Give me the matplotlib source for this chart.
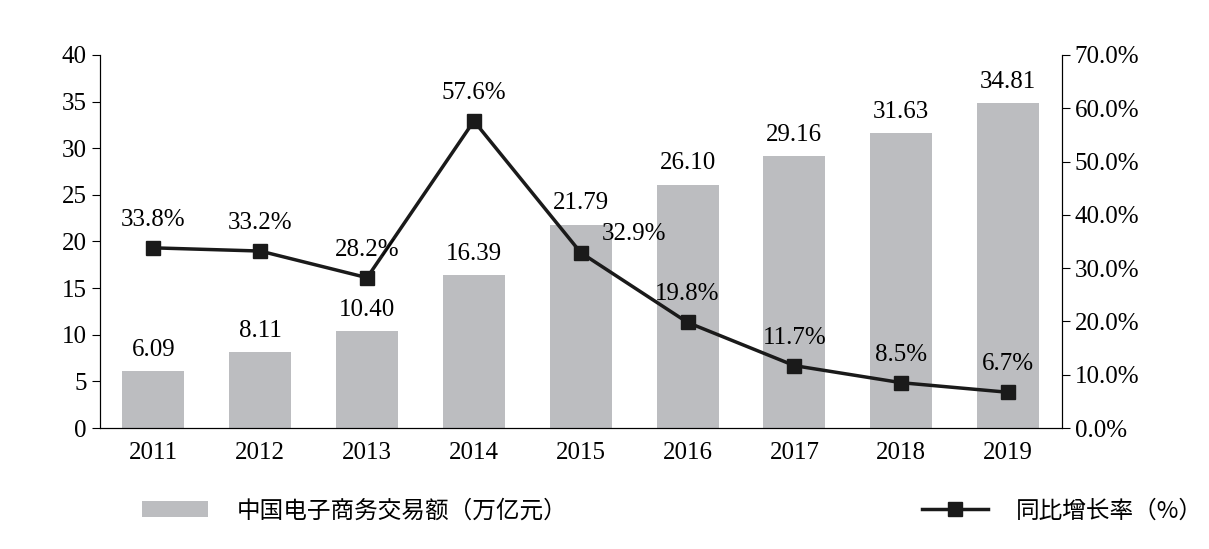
import matplotlib.pyplot as plt
from matplotlib.ticker import FuncFormatter
from matplotlib.font_manager import FontProperties

years = ['2011', '2012', '2013', '2014', '2015', '2016', '2017', '2018', '2019']
volume = [6.09, 8.11, 10.40, 16.39, 21.79, 26.10, 29.16, 31.63, 34.81]
growth = [33.8, 33.2, 28.2, 57.6, 32.9, 19.8, 11.7, 8.5, 6.7]

plt.rcParams['font.family'] = ['Liberation Serif', 'Noto Sans CJK SC']
plt.rcParams['font.size'] = 18

fig = plt.figure(figsize=(12.09, 5.49), dpi=100)
ax = fig.add_axes([0.0827, 0.2204, 0.7953, 0.6796])
x = range(len(years))
bars = ax.bar(x, volume, width=0.58, color='#bcbdc0', label='中国电子商务交易额（万亿元）')
for i, v in enumerate(volume):
    ax.text(i, v + 1.1, f'{v:.2f}', ha='center', va='bottom')
ax.set_xlim(-0.5, len(years) - 0.5)
ax.set_ylim(0, 40)
ax.set_yticks(range(0, 41, 5))
ax.set_xticks(list(x))
ax.set_xticklabels(years)
ax.spines['top'].set_visible(False)
ax.tick_params(axis='x', length=0, pad=10)
ax.tick_params(axis='y', direction='out', length=6)

ax2 = ax.twinx()
line, = ax2.plot(x, growth, color='#1a1a1a', lw=2.5, marker='s', ms=10,
                 label='同比增长率（%）')
ax2.set_ylim(0, 70)
ax2.set_yticks(range(0, 71, 10))
ax2.yaxis.set_major_formatter(FuncFormatter(lambda v, p: f'{v:.1f}%'))
ax2.spines['top'].set_visible(False)
ax2.tick_params(axis='y', direction='out', length=6)
for i, g in enumerate(growth):
    dx, dy = 0, 3.2
    if i == 4:
        dx, dy = 0.5, 1.5
    ax2.text(i + dx, g + dy, f'{g:.1f}%', ha='center', va='bottom')

cjk = FontProperties(family=['Noto Sans CJK SC', 'Noto Sans CJK JP'], size=17)
leg = fig.legend(handles=[bars, line], loc='lower left', bbox_to_anchor=(0.1, 0.01),
                 ncol=2, frameon=False, columnspacing=15, handlelength=2.8,
                 handletextpad=1.2, prop=cjk)
fig.savefig('out.png', dpi=100)
